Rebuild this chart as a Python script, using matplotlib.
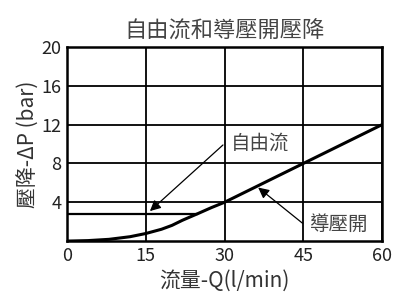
import matplotlib.pyplot as plt
import numpy as np

plt.rcParams['font.family'] = ['Noto Sans CJK TC', 'DejaVu Sans']

# Data
free_q = [0, 5, 10, 15, 20, 24.7]
free_dp = [2.8, 2.8, 2.8, 2.8, 2.8, 2.8]
pilot_q = [0, 4, 8, 12, 15, 18, 20, 22, 25, 27.5, 30, 45, 60]
pilot_dp = [0, 0.05, 0.18, 0.45, 0.78, 1.22, 1.62, 2.15, 2.85, 3.45, 4, 8, 12]
x_ticks = [0, 15, 30, 45, 60]
y_ticks = [4, 8, 12, 16, 20]

fig = plt.figure(figsize=(4, 2.98), dpi=100)
ax = fig.add_axes([0.1675, 0.191, 0.7875, 0.651])

ax.plot(free_q, free_dp, color='black', lw=1.6)
ax.plot(pilot_q, pilot_dp, color='black', lw=2.2, solid_joinstyle='round')

ax.set_xlim(0, 60)
ax.set_ylim(0, 20)
ax.set_xticks(x_ticks)
ax.set_yticks(y_ticks)
ax.grid(True, color='black', lw=1.3)
ax.tick_params(length=0, labelsize=13, pad=4, labelcolor='#222')
for s in ax.spines.values():
    s.set_linewidth(1.8)

ax.set_title('自由流和導壓開壓降', fontsize=16, color='#444', pad=7)
ax.set_xlabel('流量-Q(l/min)', fontsize=15, color='#333', labelpad=4)
ax.set_ylabel('壓降-ΔP (bar)', fontsize=15, color='#333', labelpad=1)

ax.annotate('', xy=(15.4, 2.9), xytext=(30.1, 10.1),
            arrowprops=dict(arrowstyle='-|>', color='black', lw=0.9,
                            mutation_scale=16))
ax.text(31.3, 10.1, '自由流', fontsize=14, color='#444', va='center', ha='left',
        bbox=dict(facecolor='white', edgecolor='none', pad=0.5))
ax.annotate('', xy=(36, 5.7), xytext=(45.3, 1.65),
            arrowprops=dict(arrowstyle='-|>', color='black', lw=0.9,
                            mutation_scale=16))
ax.text(46.3, 1.7, '導壓開', fontsize=14, color='#444', va='center', ha='left',
        bbox=dict(facecolor='white', edgecolor='none', pad=0.5))

fig.savefig('out.png', dpi=100)
